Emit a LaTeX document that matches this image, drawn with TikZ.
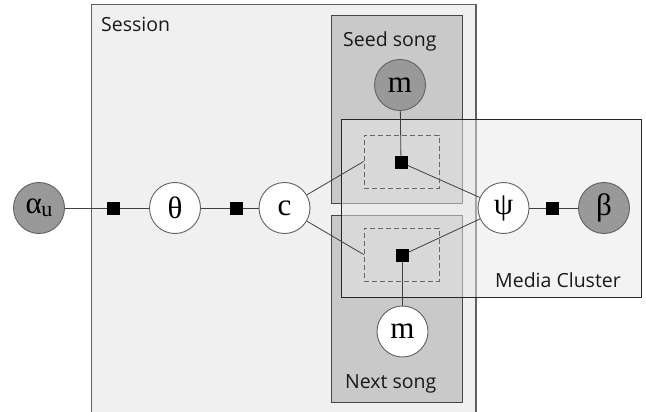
\documentclass[tikz,border=0pt]{standalone}
\usepackage{fontspec}
\setmainfont{Open Sans}
\newfontfamily\grk{Liberation Serif}
\definecolor{sessfill}{gray}{0.94}
\definecolor{songfill}{gray}{0.79}
\definecolor{mcfill}{gray}{0.91}
\definecolor{obsfill}{gray}{0.60}
\definecolor{edgecol}{gray}{0.25}
\definecolor{circcol}{gray}{0.38}
\pgfdeclarelayer{plates}
\pgfdeclarelayer{edges}
\pgfsetlayers{plates,edges,main}
\tikzset{
  varnode/.style={circle, draw=circcol, line width=0.9pt, fill=white, minimum size=51pt, inner sep=0pt, font=\grk\fontsize{31}{33}\selectfont},
  obsnode/.style={varnode, fill=obsfill},
  factornode/.style={rectangle, fill=black, minimum size=13pt, inner sep=0pt},
  edge/.style={draw=edgecol, line width=0.8pt},
  dashbox/.style={rectangle, draw=gray!80!black, line width=0.8pt, dash pattern=on 5pt off 3pt},
  platelabel/.style={anchor=base west, inner sep=0pt, font=\fontsize{19.5}{22}\selectfont, text=black!90},
}
\begin{document}
\begin{tikzpicture}[x=1pt,y=-1pt]
\useasboundingbox (0,0) rectangle (646,412);
\begin{pgfonlayer}{plates}
\begin{scope}
\clip (0,0) rectangle (646,412);
\draw[fill=sessfill, draw=gray!75!black, line width=1.1pt] (91.5,4.5) rectangle (476,430);
\end{scope}
\draw[fill=songfill, draw=gray!55!black, line width=1pt] (331.5,16) rectangle (462,203);
\draw[fill=songfill, draw=gray!55!black, line width=1pt] (331.5,215) rectangle (462,402);
\draw[fill=mcfill, fill opacity=0.5, draw=black!85, line width=1pt] (341.5,120) rectangle (641,297);
\end{pgfonlayer}
\node[platelabel] (sesslbl) at (101,31.5) {Session};
\node[platelabel] (seedlbl) at (343,47) {Seed song};
\node[platelabel] (nextlbl) at (345,388) {Next song};
\node[platelabel] (mclbl) at (495,287) {Media Cluster};
% dashed boxes
\node[dashbox, minimum width=75pt, minimum height=53pt] (dtop) at (401.5,161.5) {};
\node[dashbox, minimum width=75pt, minimum height=53pt] (dbot) at (401.5,254.5) {};
% nodes
\node[obsnode] (alpha) at (39,208) {α\kern-0.5pt\raisebox{-0.2ex}{\fontsize{22}{24}\selectfont u}};
\node[factornode] (f1) at (113.5,208) {};
\node[varnode] (theta) at (175,208) {θ};
\node[factornode] (f2) at (236.5,208) {};
\node[varnode] (c) at (284.5,208) {c};
\node[obsnode] (mseed) at (400,85) {m};
\node[factornode] (ftop) at (401,162.5) {};
\node[factornode] (fbot) at (402.5,255) {};
\node[varnode] (mnext) at (402.5,331.5) {m};
\node[varnode] (psi) at (503.5,208) {ψ};
\node[factornode] (f3) at (552.5,208) {};
\node[obsnode] (beta) at (604,208) {β};
% edges
\begin{pgfonlayer}{edges}
\path[edge] (alpha) -- (f1) -- (theta) -- (f2) -- (c);
\path[edge] (c) -- (dtop.west);
\path[edge] (c) -- (dbot.west);
\path[edge] (mseed) -- (ftop);
\path[edge] (ftop) -- (psi);
\path[edge] (mnext) -- (fbot);
\path[edge] (fbot) -- (psi);
\path[edge] (psi) -- (f3) -- (beta);
\end{pgfonlayer}
\end{tikzpicture}
\end{document}
